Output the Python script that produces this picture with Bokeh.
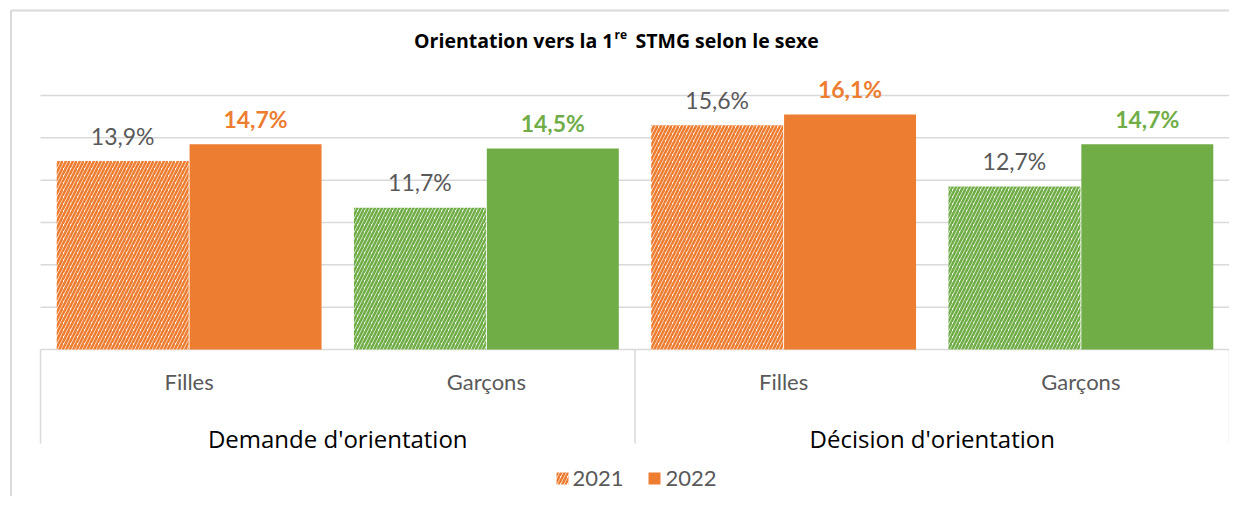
from bokeh.plotting import figure
from bokeh.models import Range1d
from bokeh.core.properties import value
from bokeh.embed import file_html
from bokeh.resources import INLINE

# ---- data ----
groups = ["Demande d'orientation", "Décision d'orientation"]
categories = ["Filles", "Garçons", "Filles", "Garçons"]
years = ["2021", "2022"]
v2021 = [13.9, 11.7, 15.6, 12.7]
v2022 = [14.7, 14.5, 16.1, 14.7]
y_ticks = [5, 7, 9, 11, 13, 15, 17]
title_parts = ["Orientation vers la 1", "re", "STMG selon le sexe"]

ORANGE = "#ED7D31"
GREEN = "#70AD47"
GRAY_TXT = "#595959"
GRID = "#D9D9D9"
colors = [ORANGE, GREEN, ORANGE, GREEN]

# pixel helpers (figure pixels -> data); scale: 297.25 px per category, 21.1667 px per point
PXX = 297.25
PXY = 21.1667
def xd(px):
    return (px - 40) / PXX
def yd(py):
    return y_ticks[0] + (349 - py) / PXY

W, H = 1229, 496
p = figure(width=W, height=H, output_backend="svg", toolbar_location=None,
           x_range=Range1d(xd(0), xd(W)), y_range=Range1d(yd(H), yd(0)),
           x_axis_type=None, y_axis_type=None, min_border=0)
p.outline_line_color = None
p.grid.visible = False
p.background_fill_color = "white"
p.border_fill_color = "white"

n = len(categories)
centers = [i + 0.5 for i in range(n)]
off = 0.2235
bw = 0.444
x21 = [c - off for c in centers]
x22 = [c + off for c in centers]

# outer chart border (left and top)
p.segment(x0=[xd(10.5), xd(10.5)], y0=[yd(10), yd(10)], x1=[xd(10.5), xd(W)], y1=[yd(H), yd(10)],
          line_color=GRID, line_width=2)

# gridlines
p.segment(x0=[0] * len(y_ticks), x1=[n] * len(y_ticks), y0=y_ticks, y1=y_ticks,
          line_color=GRID, line_width=1.5)

# category box lines
vx = [0, n / 2, n]
p.segment(x0=vx, x1=vx, y0=[y_ticks[0]] * 3, y1=[yd(443)] * 3, line_color=GRID, line_width=1.5)

# bars
HS, HW = 7, 2.6
p.vbar(x=x21, top=v2021, bottom=y_ticks[0], width=bw, fill_color="white", line_color=None,
       hatch_pattern="/", hatch_color=colors, hatch_scale=HS, hatch_weight=HW)
p.vbar(x=x22, top=v2022, bottom=y_ticks[0], width=bw, fill_color=colors, line_color=None)

# data labels
lab_off = 25.5 / PXY
p.text(x=x21, y=[v + lab_off for v in v2021], text=[f"{v:.1f}%".replace(".", ",") for v in v2021],
       text_align="center", text_baseline="middle", text_color=GRAY_TXT,
       text_font=value("Lato"), text_font_size="23px")
p.text(x=x22, y=[v + lab_off for v in v2022], text=[f"{v:.1f}%".replace(".", ",") for v in v2022],
       text_align="center", text_baseline="middle", text_color=colors,
       text_font=value("Lato"), text_font_size="23px", text_font_style="bold")

# category labels
p.text(x=centers, y=[yd(381)] * n, text=categories, text_align="center", text_baseline="middle",
       text_color=GRAY_TXT, text_font=value("Lato"), text_font_size="22px")
# group labels
gx = [n / 4, 3 * n / 4]
p.text(x=gx, y=[yd(438)] * 2, text=groups, text_align="center", text_baseline="middle",
       text_color="black", text_font=value("Open Sans"), text_font_size="24px")

# title
TFS = "19.5px"
p.text(x=[xd(613)], y=[yd(40)], text=[title_parts[0]], text_align="right", text_baseline="middle",
       text_color="black", text_font=value("Open Sans"), text_font_size=TFS, text_font_style="bold")
p.text(x=[xd(614)], y=[yd(34)], text=[title_parts[1]], text_align="left", text_baseline="middle",
       text_color="black", text_font=value("Open Sans"), text_font_size="12px", text_font_style="bold")
p.text(x=[xd(635)], y=[yd(40)], text=[title_parts[2]], text_align="left", text_baseline="middle",
       text_color="black", text_font=value("Open Sans"), text_font_size=TFS, text_font_style="bold")

# legend
lx = [xd(562), xd(654)]
ly = [yd(478)] * 2
p.rect(x=lx[:1], y=ly[:1], width=12, height=12, width_units="screen", height_units="screen",
       fill_color="white", line_color=None, hatch_pattern="/", hatch_color=ORANGE, hatch_scale=HS,
       hatch_weight=HW)
p.rect(x=lx[1:], y=ly[1:], width=12, height=12, width_units="screen", height_units="screen",
       fill_color=ORANGE, line_color=None)
p.text(x=[xd(572), xd(665)], y=ly, text=years, text_align="left", text_baseline="middle",
       text_color=GRAY_TXT, text_font=value("Lato"), text_font_size="22px")

open("out.html", "w").write(file_html(p, INLINE))
